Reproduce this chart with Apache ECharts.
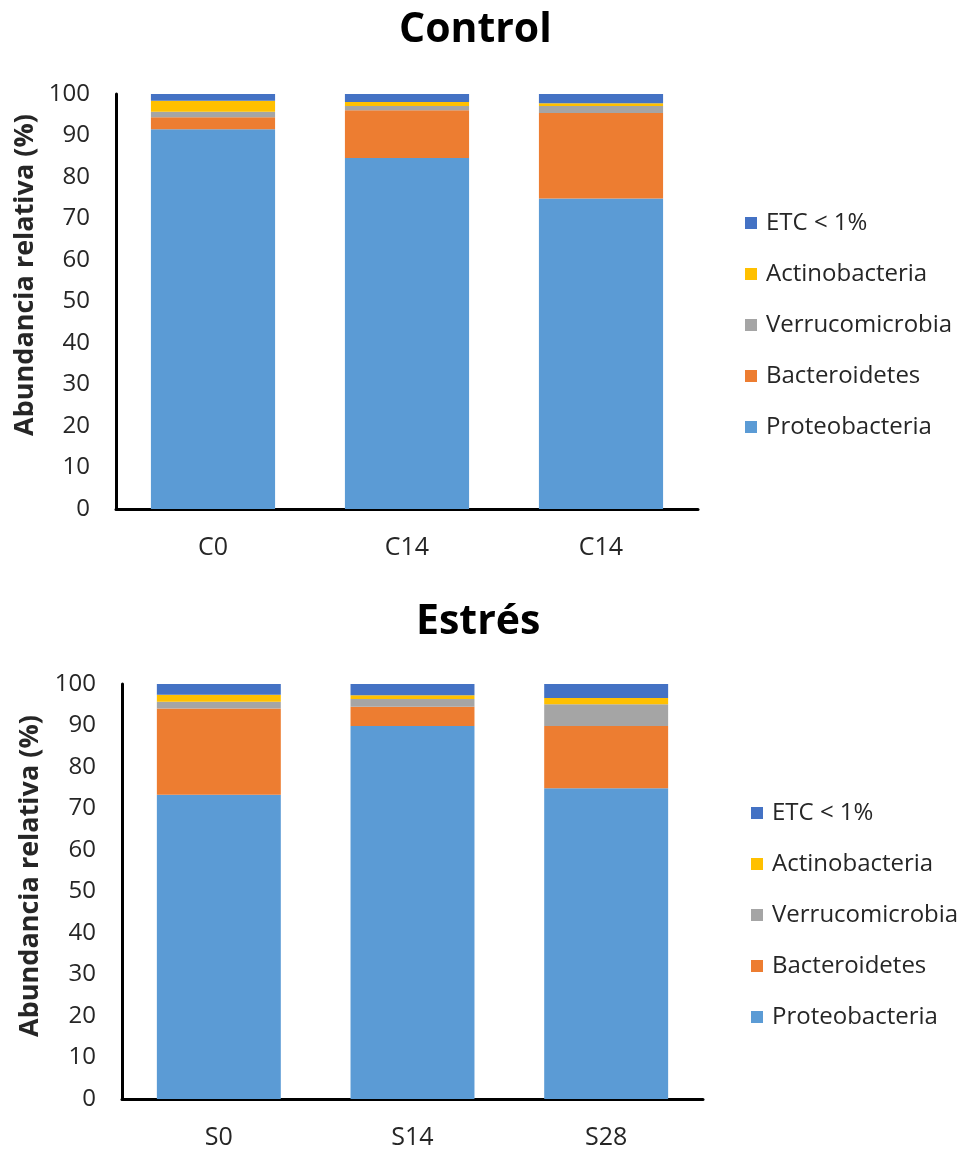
<!DOCTYPE html>
<html>
<head>
<meta charset="utf-8">
<script src="https://cdn.jsdelivr.net/npm/echarts@6/dist/echarts.min.js"></script>
<style>
html,body{margin:0;padding:0;background:#fff;}
#chart{width:964px;height:1153px;}
</style>
</head>
<body>
<div id="chart"></div>
<script>
// ---- Data ----
const categoriesControl = ['C0', 'C14', 'C14'];
const categoriesStress = ['S0', 'S14', 'S28'];
const seriesNames = ['Proteobacteria', 'Bacteroidetes', 'Verrucomicrobia', 'Actinobacteria', 'ETC < 1%'];
const legendOrder = ['ETC < 1%', 'Actinobacteria', 'Verrucomicrobia', 'Bacteroidetes', 'Proteobacteria'];
const yTicks = [0, 10, 20, 30, 40, 50, 60, 70, 80, 90, 100];

const controlProteobacteria = [91.5, 84.6, 74.8];
const controlBacteroidetes = [2.9, 11.5, 20.6];
const controlVerrucomicrobia = [1.3, 1.0, 1.7];
const controlActinobacteria = [2.7, 1.0, 0.7];
const controlETC = [1.6, 1.9, 2.2];

const stressProteobacteria = [73.3, 89.9, 74.9];
const stressBacteroidetes = [20.8, 4.6, 15.0];
const stressVerrucomicrobia = [1.6, 1.9, 5.2];
const stressActinobacteria = [1.7, 0.9, 1.5];
const stressETC = [2.6, 2.7, 3.4];

const colors = {
  'Proteobacteria': '#5B9BD5',
  'Bacteroidetes': '#ED7D31',
  'Verrucomicrobia': '#A5A5A5',
  'Actinobacteria': '#FFC000',
  'ETC < 1%': '#4472C4'
};

const controlData = [controlProteobacteria, controlBacteroidetes, controlVerrucomicrobia, controlActinobacteria, controlETC];
const stressData = [stressProteobacteria, stressBacteroidetes, stressVerrucomicrobia, stressActinobacteria, stressETC];

const FONT = '"Open Sans", sans-serif';
const textColor = '#262626';

function makeXAxis(idx, cats) {
  return {
    type: 'category', gridIndex: idx, data: cats,
    axisLine: { show: true, lineStyle: { color: '#000', width: 3 } },
    axisTick: { show: false },
    axisLabel: { fontSize: 25, color: textColor, fontFamily: FONT, margin: 26 },
    splitLine: { show: false }
  };
}
function makeYAxis(idx) {
  return {
    type: 'value', gridIndex: idx, min: yTicks[0], max: yTicks[yTicks.length - 1], interval: 10,
    axisLine: { show: true, lineStyle: { color: '#000', width: 3 } },
    axisTick: { show: false },
    axisLabel: { fontSize: 24, color: textColor, fontFamily: FONT, margin: 26 },
    splitLine: { show: false }
  };
}

const series = [];
seriesNames.forEach((name, i) => {
  series.push({
    name: name, type: 'bar', stack: 'control', xAxisIndex: 0, yAxisIndex: 0,
    data: controlData[i], barWidth: '64%', itemStyle: { color: colors[name] }
  });
  series.push({
    name: name, type: 'bar', stack: 'stress', xAxisIndex: 1, yAxisIndex: 1,
    data: stressData[i], barWidth: '64%', itemStyle: { color: colors[name] }
  });
});

function makeLegend(left, top) {
  return {
    data: legendOrder, orient: 'vertical', left: left, top: top,
    icon: 'rect', itemWidth: 12, itemHeight: 12, itemGap: 27,
    selectedMode: false,
    textStyle: { fontSize: 24, color: textColor, fontFamily: FONT, lineHeight: 24, padding: [0, 0, 0, 4] }
  };
}

const option = {
  animation: false,
  backgroundColor: '#fff',
  title: [
    { text: 'Control', left: 399, top: 10, padding: 0,
      textStyle: { fontSize: 41, fontWeight: 'bold', color: '#000', fontFamily: FONT } },
    { text: 'Estrés', left: 416, top: 602, padding: 0,
      textStyle: { fontSize: 41, fontWeight: 'bold', color: '#000', fontFamily: FONT } }
  ],
  grid: [
    { left: 116, top: 94, width: 582, height: 415 },
    { left: 122, top: 684, width: 581, height: 415 }
  ],
  xAxis: [makeXAxis(0, categoriesControl), makeXAxis(1, categoriesStress)],
  yAxis: [makeYAxis(0), makeYAxis(1)],
  legend: [makeLegend(740, 206), makeLegend(746, 796)],
  graphic: [
    { type: 'text', x: 25, y: 275, rotation: Math.PI / 2,
      style: { text: 'Abundancia relativa (%)', fontSize: 27, fontWeight: 'bold', fontFamily: FONT,
        fill: textColor, align: 'center', verticalAlign: 'middle' } },
    { type: 'text', x: 30, y: 876, rotation: Math.PI / 2,
      style: { text: 'Abundancia relativa (%)', fontSize: 27, fontWeight: 'bold', fontFamily: FONT,
        fill: textColor, align: 'center', verticalAlign: 'middle' } }
  ],
  series: series
};

const chart = echarts.init(document.getElementById('chart'), null, { renderer: 'canvas' });
chart.setOption(option);
</script>
</body>
</html>
